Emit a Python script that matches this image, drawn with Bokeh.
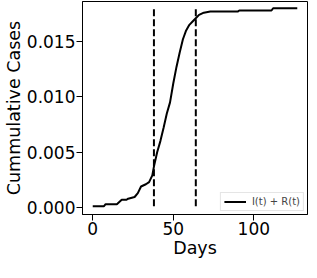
from bokeh.plotting import figure
from bokeh.models import Range1d, FixedTicker, NumeralTickFormatter, Legend, LegendItem
from bokeh.embed import file_html
from bokeh.resources import INLINE

# data
days = [0, 7, 8, 15, 18, 21, 22, 26, 28, 30, 33, 35, 37, 38, 40, 42, 44, 46, 48, 50,
        52, 54, 56, 58, 60, 62, 64, 66, 69, 73, 90, 91, 111, 112, 127]
cases = [0.00012, 0.00012, 0.0003, 0.0003, 0.0007, 0.0007, 0.0008, 0.00095, 0.0013, 0.0019,
         0.0021, 0.0023, 0.0029, 0.0037, 0.0050, 0.0060, 0.0072, 0.0085, 0.0095, 0.0112,
         0.0127, 0.0140, 0.0152, 0.0160, 0.0165, 0.0168, 0.0171, 0.0174, 0.0176, 0.0177,
         0.0177, 0.0178, 0.0178, 0.0180, 0.0180]
vline_days = [38, 64]
vline_bottom = [0.00012, 0.00012]
vline_top = [0.0180, 0.0180]
x_ticks = [0, 50, 100]
y_ticks = [0.0, 0.005, 0.010, 0.015]
legend_label = "I(t) + R(t)"

FONT = "DejaVu Sans"

p = figure(output_backend="svg", toolbar_location=None,
           frame_width=225, frame_height=213,
           min_border_left=79, min_border_right=3, min_border_top=1, min_border_bottom=46,
           x_range=Range1d(-6.35, 133.35), y_range=Range1d(-0.00063, 0.01861))
p.background_fill_color = "white"
p.border_fill_color = "white"
p.outline_line_color = "black"
p.outline_line_width = 1
p.outline_line_alpha = 1
p.xgrid.visible = False
p.ygrid.visible = False

r = p.line(days, cases, line_color="black", line_width=2)
p.segment(x0=vline_days, y0=vline_bottom, x1=vline_days, y1=vline_top,
          line_color="black", line_width=2, line_dash="7 3")

for ax in (p.xaxis[0], p.yaxis[0]):
    ax.axis_line_color = "black"
    ax.major_tick_line_color = "black"
    ax.minor_tick_line_color = None
    ax.major_tick_in = 0
    ax.major_tick_out = 6
    ax.major_label_text_font = FONT
    ax.major_label_text_font_size = "17px"
    ax.major_label_text_color = "black"
    ax.axis_label_text_font = FONT
    ax.axis_label_text_font_size = "17.5px"
    ax.axis_label_text_font_style = "normal"
    ax.axis_label_text_color = "black"
    ax.major_label_standoff = 1
    ax.axis_label_standoff = 0

p.xaxis[0].ticker = FixedTicker(ticks=x_ticks)
p.yaxis[0].ticker = FixedTicker(ticks=y_ticks)
p.yaxis[0].formatter = NumeralTickFormatter(format="0.000")
p.xaxis[0].axis_label = "Days"
p.yaxis[0].axis_label = "Cummulative Cases"

legend = Legend(items=[LegendItem(label=legend_label, renderers=[r])],
                location="bottom_right", margin=3, padding=3, spacing=0,
                label_text_font=FONT, label_text_font_size="10px",
                label_height=11, glyph_height=11, glyph_width=22, label_standoff=6,
                border_line_color="#cccccc", border_line_width=1,
                background_fill_alpha=0.8)
p.add_layout(legend)

open("out.html", "w").write(file_html(p, INLINE))
